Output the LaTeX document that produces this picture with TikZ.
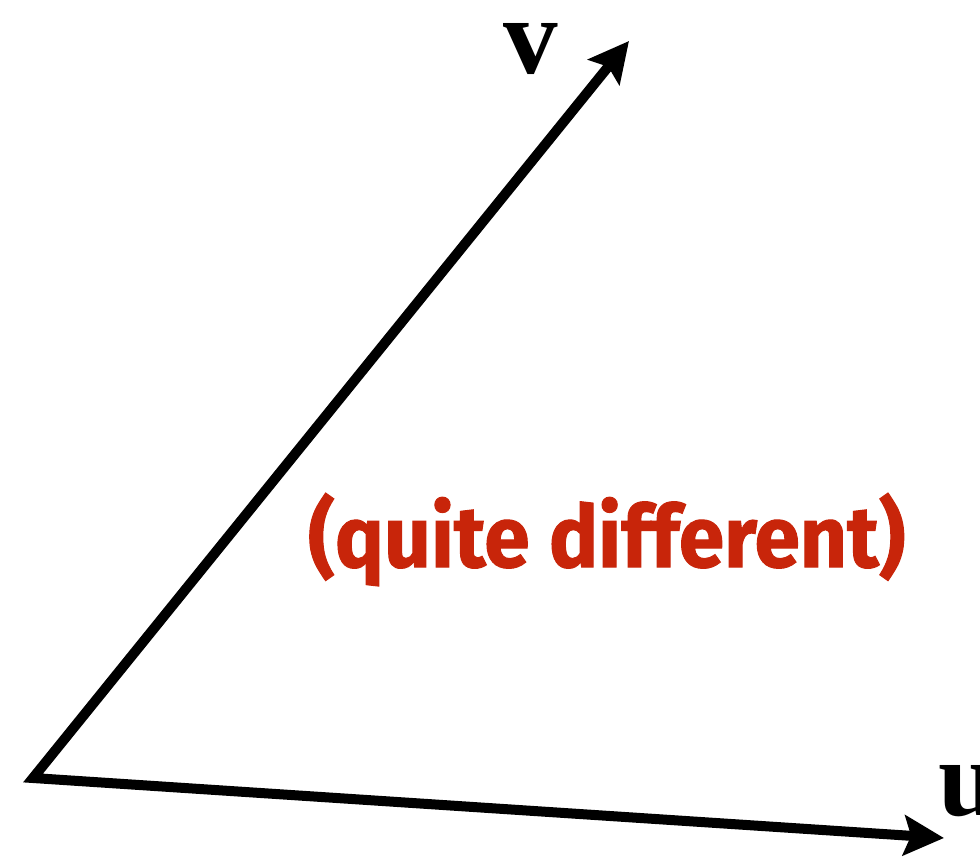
\documentclass[tikz,border=0pt]{standalone}
\usepackage{fontspec}
\usepackage{graphicx}
\usetikzlibrary{arrows.meta}
\newfontfamily\lblfont{Liberation Serif}
\newfontfamily\notefont[FakeBold=1.2]{Fira Sans}
\definecolor{notered}{HTML}{C8250A}
\tikzset{
  vec/.style={line width=10pt, line join=miter, {Stealth[length=40pt,width=40pt,inset=7pt]}-{Stealth[length=40pt,width=40pt,inset=7pt]}},
  veclabel/.style={inner sep=0pt, font=\lblfont\bfseries\fontsize{109}{109}\selectfont},
  note/.style={inner sep=0pt, text=notered}
}
\begin{document}
\begin{tikzpicture}[x=1pt,y=-1pt]
  \useasboundingbox (0,0) rectangle (980,862);
  \coordinate (o) at (33,778);
  \coordinate (vt) at (629,41);
  \coordinate (ut) at (944,838);
  \draw[vec] (vt) -- (o) -- (ut);
  \node[veclabel, anchor=base] (vl) at (531,73) {v};
  \node[veclabel, anchor=base west] (ul) at (938,815) {u};
  \node[note, anchor=base west] (nt) at (308,567)
    {\resizebox{597pt}{74pt}{\notefont\bfseries (quite different)}};
\end{tikzpicture}
\end{document}
